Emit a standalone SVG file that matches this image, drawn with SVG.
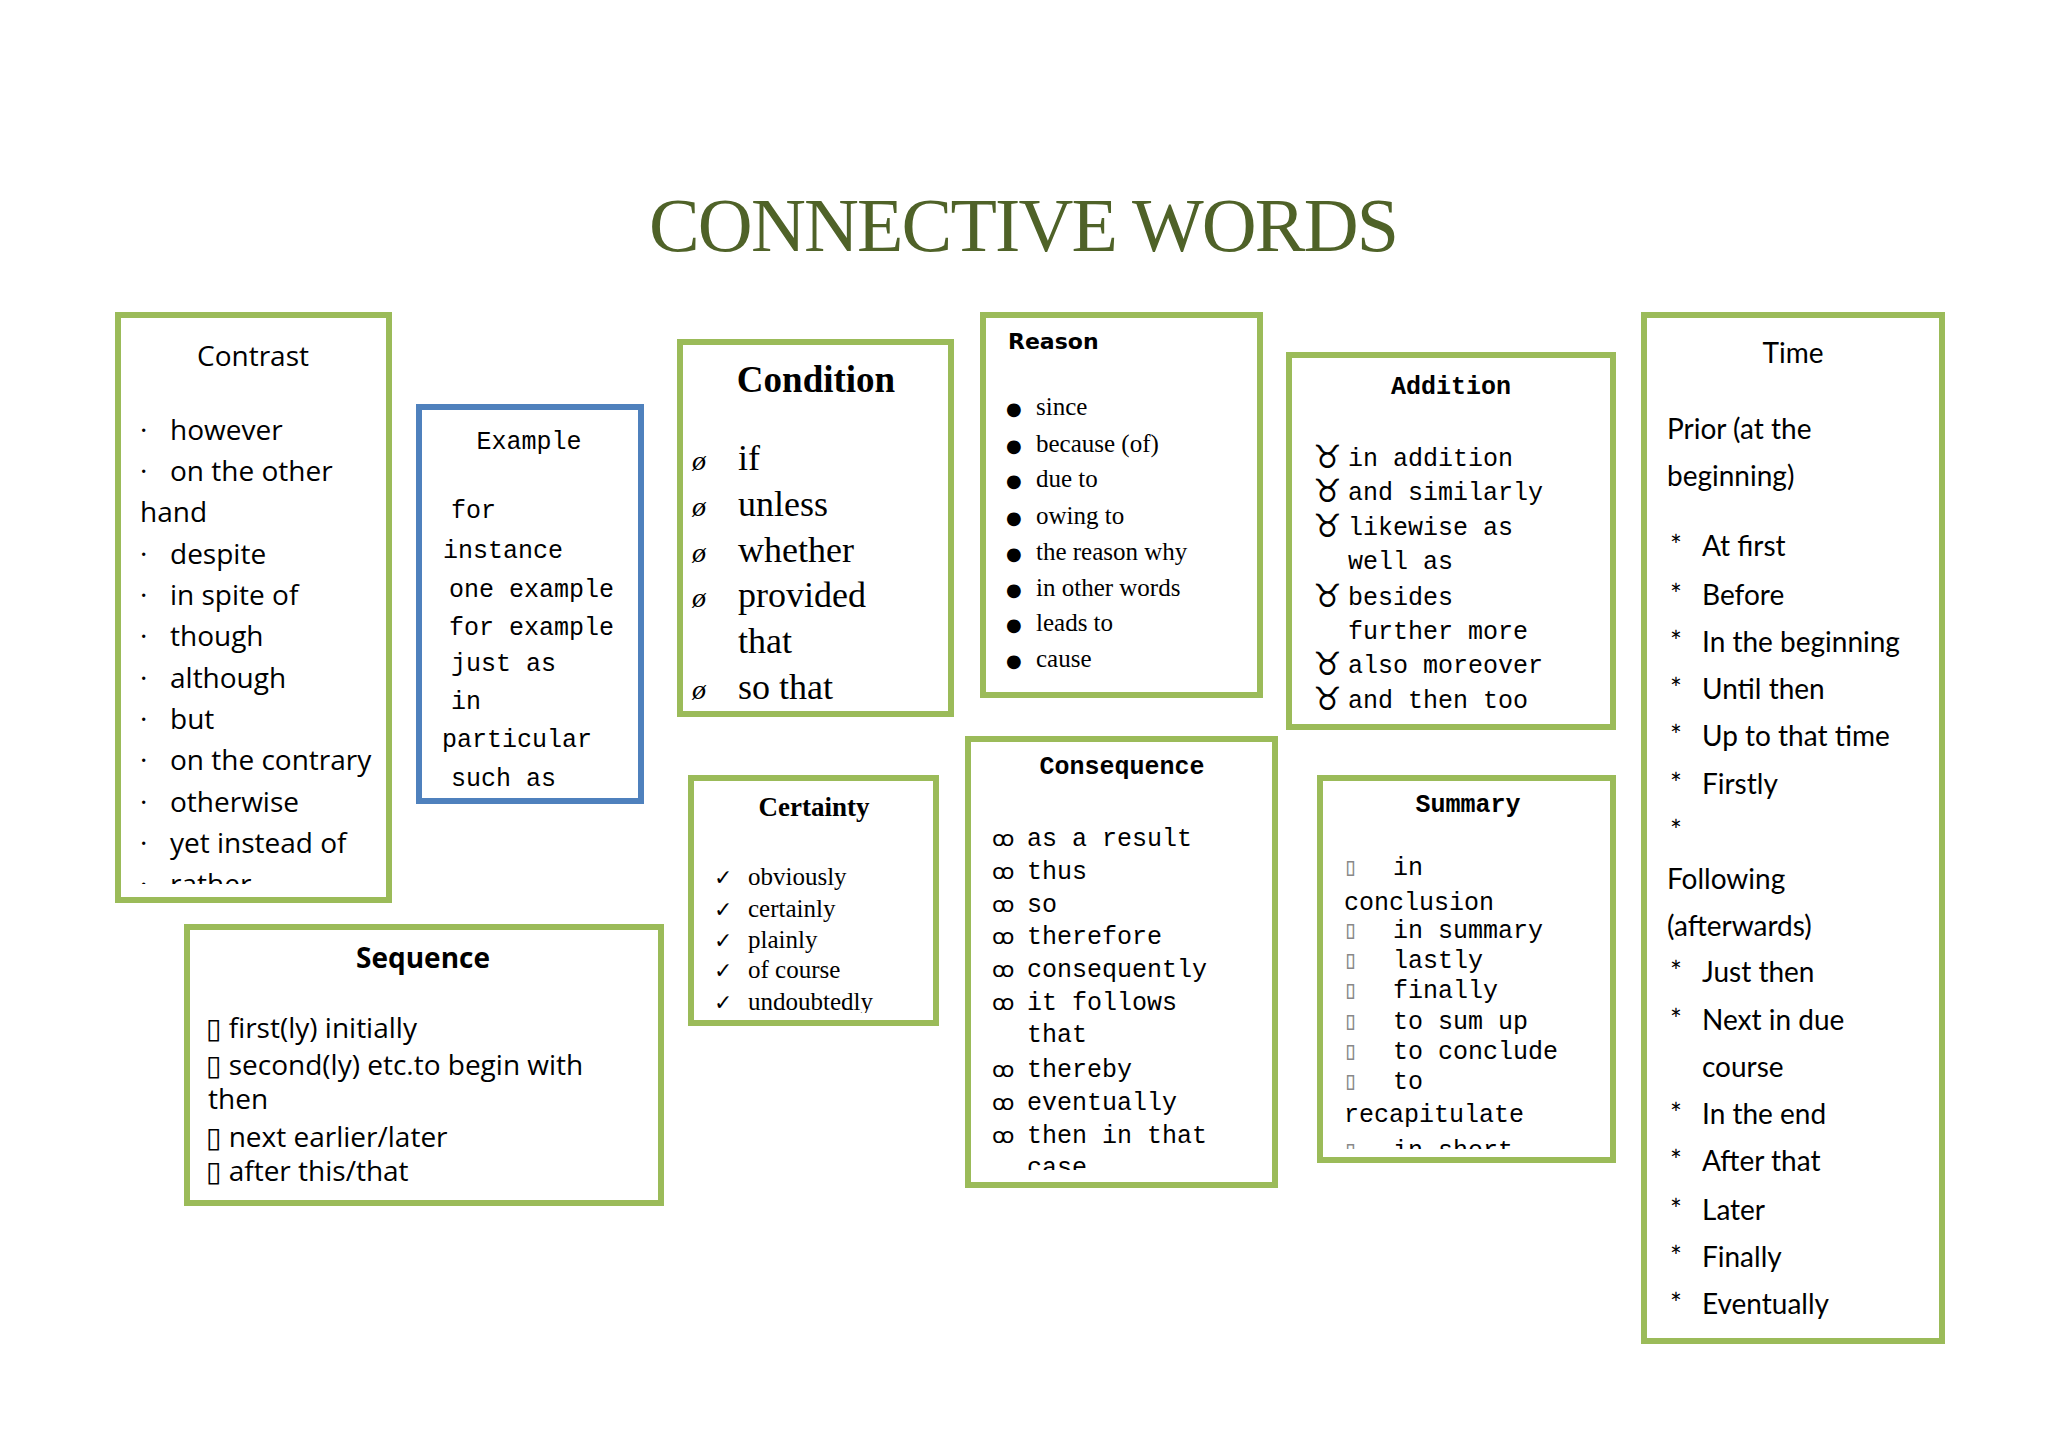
<svg xmlns="http://www.w3.org/2000/svg" width="2048" height="1448" viewBox="0 0 2048 1448">
<defs>
<style>
.g{fill:#fff;stroke:#9bbb59;stroke-width:6}
.b{fill:#fff;stroke:#4f81bd;stroke-width:6}
.os{font-family:"Open Sans","DejaVu Sans",sans-serif;font-size:28px;fill:#000}
.mono{font-family:"Liberation Mono","DejaVu Sans Mono",monospace;font-size:25px;fill:#000}
.ser{font-family:"Liberation Serif","DejaVu Serif",serif;fill:#000}
.lato{font-family:Lato,"Open Sans",sans-serif;font-size:28px;fill:#000}
.mb{font-family:"Liberation Mono","DejaVu Sans Mono",monospace;font-weight:bold;font-size:25px;fill:#000}
.sym{font-family:"DejaVu Sans",sans-serif}
</style>
<clipPath id="cC"><rect x="121" y="318" width="265" height="566"/></clipPath>
<clipPath id="cCe"><rect x="694" y="781" width="239" height="232"/></clipPath>
<clipPath id="cCo"><rect x="971" y="742" width="301" height="428"/></clipPath>
<clipPath id="cS"><rect x="1323" y="781" width="287" height="368"/></clipPath>
</defs>
<rect width="2048" height="1448" fill="#fff"/>
<text x="1024" y="251" text-anchor="middle" font-family="Liberation Serif,serif" font-size="76" fill="#4f6228" textLength="750">CONNECTIVE WORDS</text>

<g id="contrast">
<rect class="g" x="118" y="315" width="271" height="585"/>
<text class="os" x="253" y="366" text-anchor="middle">Contrast</text>
<g clip-path="url(#cC)" class="os">
<text x="140" y="440">·</text><text x="170" y="440">however</text>
<text x="140" y="481">·</text><text x="170" y="481">on the other</text>
<text x="140" y="522">hand</text>
<text x="140" y="564">·</text><text x="170" y="564">despite</text>
<text x="140" y="605">·</text><text x="170" y="605">in spite of</text>
<text x="140" y="646">·</text><text x="170" y="646">though</text>
<text x="140" y="688">·</text><text x="170" y="688">although</text>
<text x="140" y="729">·</text><text x="170" y="729">but</text>
<text x="140" y="770">·</text><text x="170" y="770">on the contrary</text>
<text x="140" y="812">·</text><text x="170" y="812">otherwise</text>
<text x="140" y="853">·</text><text x="170" y="853">yet instead of</text>
<text x="140" y="894">·</text><text x="170" y="894">rather</text>
</g>
</g>

<g id="example">
<rect class="b" x="419" y="407" width="222" height="394"/>
<text class="mono" x="529" y="449" text-anchor="middle" font-size="26">Example</text>
<g class="mono" font-size="24">
<text x="451" y="518">for</text>
<text x="443" y="558">instance</text>
<text x="449" y="597">one example</text>
<text x="449" y="635">for example</text>
<text x="451" y="671">just as</text>
<text x="451" y="709">in</text>
<text x="442" y="747">particular</text>
<text x="451" y="786">such as</text>
</g>
</g>

<g id="condition">
<rect class="g" x="680" y="342" width="271" height="372"/>
<text class="ser" x="816" y="392" text-anchor="middle" font-size="37" font-weight="bold">Condition</text>
<g class="ser" font-size="36">
<text x="692" y="470" font-size="28" font-style="italic">ø</text><text x="738" y="470">if</text>
<text x="692" y="516" font-size="28" font-style="italic">ø</text><text x="738" y="516">unless</text>
<text x="692" y="562" font-size="28" font-style="italic">ø</text><text x="738" y="562">whether</text>
<text x="692" y="607" font-size="28" font-style="italic">ø</text><text x="738" y="607">provided</text>
<text x="738" y="653">that</text>
<text x="692" y="699" font-size="28" font-style="italic">ø</text><text x="738" y="699">so that</text>
</g>
</g>

<g id="reason">
<rect class="g" x="983" y="315" width="277" height="380"/>
<text x="1008" y="349" font-family="DejaVu Sans,sans-serif" font-weight="bold" font-size="22">Reason</text>
<g class="ser" font-size="25">
<text class="sym" x="1006" y="415" font-size="18">●</text><text x="1036" y="415">since</text>
<text class="sym" x="1006" y="452" font-size="18">●</text><text x="1036" y="452">because (of)</text>
<text class="sym" x="1006" y="487" font-size="18">●</text><text x="1036" y="487">due to</text>
<text class="sym" x="1006" y="524" font-size="18">●</text><text x="1036" y="524">owing to</text>
<text class="sym" x="1006" y="560" font-size="18">●</text><text x="1036" y="560">the reason why</text>
<text class="sym" x="1006" y="596" font-size="18">●</text><text x="1036" y="596">in other words</text>
<text class="sym" x="1006" y="631" font-size="18">●</text><text x="1036" y="631">leads to</text>
<text class="sym" x="1006" y="667" font-size="18">●</text><text x="1036" y="667">cause</text>
</g>
</g>

<g id="addition">
<rect class="g" x="1289" y="355" width="324" height="372"/>
<text class="mb" x="1451" y="394" text-anchor="middle">Addition</text>
<g class="mono">
<text class="sym" x="1313" y="468" font-size="32">♉</text><text x="1348" y="466">in addition</text>
<text class="sym" x="1313" y="502" font-size="32">♉</text><text x="1348" y="500">and similarly</text>
<text class="sym" x="1313" y="537" font-size="32">♉</text><text x="1348" y="535">likewise as</text>
<text x="1348" y="569">well as</text>
<text class="sym" x="1313" y="607" font-size="32">♉</text><text x="1348" y="605">besides</text>
<text x="1348" y="639">further more</text>
<text class="sym" x="1313" y="675" font-size="32">♉</text><text x="1348" y="673">also moreover</text>
<text class="sym" x="1313" y="710" font-size="32">♉</text><text x="1348" y="708">and then too</text>
</g>
</g>

<g id="time">
<rect class="g" x="1644" y="315" width="298" height="1026"/>
<text class="lato" x="1793" y="363" text-anchor="middle" font-size="34">Time</text>
<g class="lato">
<text x="1667" y="439">Prior (at the</text>
<text x="1667" y="486">beginning)</text>
<text x="1670" y="556">*</text><text x="1702" y="556">At first</text>
<text x="1670" y="605">*</text><text x="1702" y="605">Before</text>
<text x="1670" y="652">*</text><text x="1702" y="652">In the beginning</text>
<text x="1670" y="699">*</text><text x="1702" y="699">Until then</text>
<text x="1670" y="746">*</text><text x="1702" y="746">Up to that time</text>
<text x="1670" y="794">*</text><text x="1702" y="794">Firstly</text>
<text x="1670" y="841">*</text>
<text x="1667" y="889">Following</text>
<text x="1667" y="936">(afterwards)</text>
<text x="1670" y="982">*</text><text x="1702" y="982">Just then</text>
<text x="1670" y="1030">*</text><text x="1702" y="1030">Next in due</text>
<text x="1702" y="1077">course</text>
<text x="1670" y="1124">*</text><text x="1702" y="1124">In the end</text>
<text x="1670" y="1171">*</text><text x="1702" y="1171">After that</text>
<text x="1670" y="1220">*</text><text x="1702" y="1220">Later</text>
<text x="1670" y="1267">*</text><text x="1702" y="1267">Finally</text>
<text x="1670" y="1314">*</text><text x="1702" y="1314">Eventually</text>
</g>
</g>

<g id="sequence">
<rect class="g" x="187" y="927" width="474" height="276"/>
<text class="os" x="423" y="968" text-anchor="middle" font-size="25" font-weight="bold">Sequence</text>
<g class="os" font-size="27">
<text x="206" y="1038">▯ first(ly) initially</text>
<text x="206" y="1075">▯ second(ly) etc.to begin with</text>
<text x="208" y="1109">then</text>
<text x="206" y="1147">▯ next earlier/later</text>
<text x="206" y="1181">▯ after this/that</text>
</g>
</g>

<g id="certainty">
<rect class="g" x="691" y="778" width="245" height="245"/>
<text class="ser" x="814" y="816" text-anchor="middle" font-size="27" font-weight="bold">Certainty</text>
<g class="ser" font-size="25" clip-path="url(#cCe)">
<text class="sym" x="714" y="885" font-size="22">✓</text><text x="748" y="885">obviously</text>
<text class="sym" x="714" y="917" font-size="22">✓</text><text x="748" y="917">certainly</text>
<text class="sym" x="714" y="948" font-size="22">✓</text><text x="748" y="948">plainly</text>
<text class="sym" x="714" y="978" font-size="22">✓</text><text x="748" y="978">of course</text>
<text class="sym" x="714" y="1010" font-size="22">✓</text><text x="748" y="1010">undoubtedly</text>
</g>
</g>

<g id="consequence">
<rect class="g" x="968" y="739" width="307" height="446"/>
<text class="mb" x="1122" y="774" text-anchor="middle">Consequence</text>
<g class="mono" clip-path="url(#cCo)">
<text class="sym" x="992" y="846" font-size="22">ꝏ</text><text x="1027" y="846">as a result</text>
<text class="sym" x="992" y="879" font-size="22">ꝏ</text><text x="1027" y="879">thus</text>
<text class="sym" x="992" y="912" font-size="22">ꝏ</text><text x="1027" y="912">so</text>
<text class="sym" x="992" y="944" font-size="22">ꝏ</text><text x="1027" y="944">therefore</text>
<text class="sym" x="992" y="977" font-size="22">ꝏ</text><text x="1027" y="977">consequently</text>
<text class="sym" x="992" y="1010" font-size="22">ꝏ</text><text x="1027" y="1010">it follows</text>
<text x="1027" y="1042">that</text>
<text class="sym" x="992" y="1077" font-size="22">ꝏ</text><text x="1027" y="1077">thereby</text>
<text class="sym" x="992" y="1110" font-size="22">ꝏ</text><text x="1027" y="1110">eventually</text>
<text class="sym" x="992" y="1143" font-size="22">ꝏ</text><text x="1027" y="1143">then in that</text>
<text x="1027" y="1175">case</text>
</g>
</g>

<g id="summary">
<rect class="g" x="1320" y="778" width="293" height="382"/>
<text class="mb" x="1468" y="812" text-anchor="middle">Summary</text>
<g class="mono" font-size="24" clip-path="url(#cS)">
<text x="1343" y="875" fill="#888">▯</text><text x="1393" y="875">in</text>
<text x="1344" y="910">conclusion</text>
<text x="1343" y="938" fill="#888">▯</text><text x="1393" y="938">in summary</text>
<text x="1343" y="968" fill="#888">▯</text><text x="1393" y="968">lastly</text>
<text x="1343" y="998" fill="#888">▯</text><text x="1393" y="998">finally</text>
<text x="1343" y="1029" fill="#888">▯</text><text x="1393" y="1029">to sum up</text>
<text x="1343" y="1059" fill="#888">▯</text><text x="1393" y="1059">to conclude</text>
<text x="1343" y="1089" fill="#888">▯</text><text x="1393" y="1089">to</text>
<text x="1344" y="1122">recapitulate</text>
<text x="1343" y="1158" fill="#888">▯</text><text x="1393" y="1158">in short</text>
</g>
</g>
<g id="connectors"/>
</svg>
